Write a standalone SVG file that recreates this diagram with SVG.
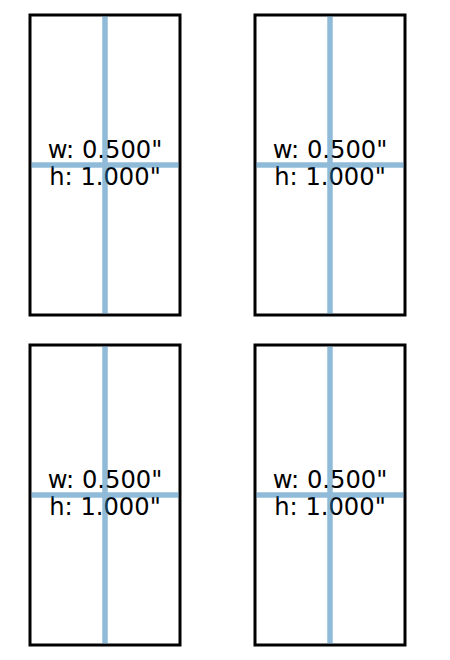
<svg xmlns="http://www.w3.org/2000/svg" width="450" height="660" viewBox="0 0 450 660">
<style>
.box{fill:#ffffff;stroke:#000000;stroke-width:3}
.lbl{font-family:"DejaVu Sans",sans-serif;font-size:24.2px;fill:#000000;text-anchor:middle}
.cross{stroke:#1f77b4;stroke-opacity:0.5;stroke-width:5.5;fill:none}
</style>
<rect width="450" height="660" fill="#ffffff"/>
<g id="panel-1">
<rect class="box" x="30" y="15" width="150" height="300"/>
<text class="lbl" x="105" y="158">w: 0.500"</text>
<text class="lbl" x="105" y="185">h: 1.000"</text>
</g>
<g id="panel-2">
<rect class="box" x="255" y="15" width="150" height="300"/>
<text class="lbl" x="330" y="158">w: 0.500"</text>
<text class="lbl" x="330" y="185">h: 1.000"</text>
</g>
<g id="panel-3">
<rect class="box" x="30" y="345" width="150" height="300"/>
<text class="lbl" x="105" y="488">w: 0.500"</text>
<text class="lbl" x="105" y="515">h: 1.000"</text>
</g>
<g id="panel-4">
<rect class="box" x="255" y="345" width="150" height="300"/>
<text class="lbl" x="330" y="488">w: 0.500"</text>
<text class="lbl" x="330" y="515">h: 1.000"</text>
</g>
<g id="connectors">
<path class="cross" d="M105 16.5V313.5M31.5 165H178.5"/>
<path class="cross" d="M330 16.5V313.5M256.5 165H403.5"/>
<path class="cross" d="M105 346.5V643.5M31.5 495H178.5"/>
<path class="cross" d="M330 346.5V643.5M256.5 495H403.5"/>
</g>
</svg>
